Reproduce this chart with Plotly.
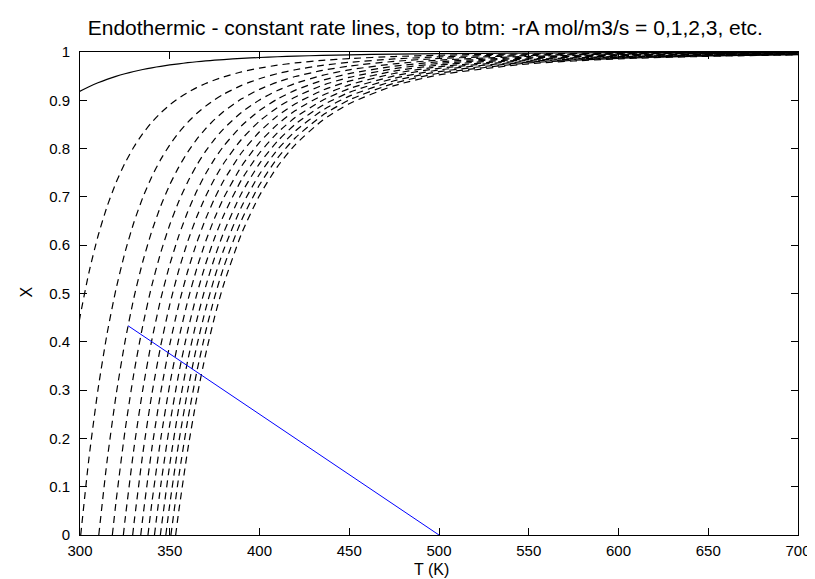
import plotly.graph_objects as go

T_GRID = [285, 290, 295, 300, 305, 310, 315, 320, 325, 330, 335, 340, 345, 350, 355,
          360, 365, 370, 375, 380, 390, 400, 410, 420, 435, 450, 475, 500, 550, 600, 650, 700]

# Conversion X along each constant-rate line (-rA = 0 .. 13 mol/m3/s)
X_R0 = [.8803, .8950, .9077, .9187, .9282, .9363, .9434, .9496, .9549, .9596, .9637, .9673, .9704, .9732, .9756,
        .9778, .9798, .9815, .9830, .9844, .9867, .9886, .9902, .9915, .9930, .9942, .9957, .9966, .9978, .9985, .9989, .9992]
X_R1 = [.0153, .1943, .3372, .4516, .5438, .6185, .6792, .7288, .7696, .8033, .8312, .8545, .8740, .8905, .9043,
        .9161, .9262, .9348, .9421, .9485, .9589, .9667, .9727, .9774, .9827, .9864, .9906, .9933, .9961, .9975, .9983, .9988]
X_R2 = [None, None, None, None, .1595, .3006, .4149, .5081, .5843, .6470, .6988, .7418, .7777, .8077, .8330,
        .8544, .8726, .8880, .9013, .9127, .9309, .9447, .9552, .9633, .9723, .9786, .9856, .9899, .9944, .9966, .9977, .9984]
X_R3 = [None, None, None, None, None, None, .1507, .2873, .3990, .4907, .5663, .6291, .6813, .7250, .7617,
        .7927, .8190, .8413, .8604, .8768, .9030, .9227, .9377, .9492, .9619, .9709, .9806, .9865, .9927, .9956, .9971, .9980]
X_R4 = [None, None, None, None, None, None, None, .0666, .2137, .3344, .4338, .5164, .5849, .6423, .6905,
        .7310, .7654, .7946, .8196, .8409, .8751, .9008, .9202, .9351, .9516, .9631, .9755, .9831, .9910, .9946, .9965, .9976]
X_R5 = [None, None, None, None, None, None, None, None, .0284, .1780, .3014, .4036, .4886, .5596, .6192,
        .6693, .7118, .7479, .7787, .8051, .8472, .8788, .9027, .9210, .9412, .9553, .9705, .9797, .9893, .9937, .9959, .9972]
X_R6 = [None, None, None, None, None, None, None, None, None, .0217, .1689, .2909, .3922, .4768, .5479,
        .6077, .6582, .7012, .7378, .7692, .8193, .8568, .8852, .9070, .9308, .9475, .9655, .9763, .9876, .9927, .9953, .9968]
X_R7 = [None, None, None, None, None, None, None, None, None, None, .0365, .1782, .2958, .3941, .4766,
        .5460, .6047, .6545, .6970, .7333, .7914, .8348, .8677, .8929, .9205, .9397, .9605, .9729, .9858, .9917, .9947, .9964]
X_R8 = [None, None, None, None, None, None, None, None, None, None, None, .0655, .1995, .3114, .4053,
        .4843, .5511, .6078, .6561, .6975, .7635, .8129, .8502, .8788, .9101, .9319, .9555, .9695, .9841, .9907, .9941, .9960]
X_R9 = [None, None, None, None, None, None, None, None, None, None, None, None, .1031, .2287, .3340,
        .4226, .4975, .5611, .6153, .6616, .7356, .7909, .8327, .8647, .8997, .9242, .9504, .9662, .9824, .9898, .9935, .9956]
X_R10 = [None, None, None, None, None, None, None, None, None, None, None, None, .0067, .1459, .2627,
         .3609, .4439, .5144, .5744, .6258, .7077, .7689, .8152, .8506, .8893, .9164, .9454, .9628, .9807, .9888, .9929, .9952]
X_R11 = [None, None, None, None, None, None, None, None, None, None, None, None, None, .0632, .1914,
         .2992, .3903, .4677, .5336, .5899, .6798, .7469, .7977, .8365, .8790, .9086, .9404, .9594, .9790, .9878, .9923, .9948]
X_R12 = [None, None, None, None, None, None, None, None, None, None, None, None, None, None, .1201,
         .2375, .3367, .4209, .4927, .5540, .6519, .7250, .7802, .8224, .8686, .9008, .9354, .9560, .9773, .9869, .9917, .9944]
X_R13 = [None, None, None, None, None, None, None, None, None, None, None, None, None, None, .0488,
         .1758, .2831, .3742, .4518, .5182, .6240, .7030, .7627, .8083, .8582, .8930, .9303, .9526, .9756, .9859, .9911, .9940]

# Temperature where each dashed line meets X = 0
START_T = [None, 284.62, 300.40, 310.47, 318.03, 324.16, 329.34, 333.85, 337.86, 341.48, 344.78, 347.82, 350.65, 353.29]

# Operating (adiabatic) line
OP_T = [500.0, 326.7]
OP_X = [0.0, 0.4334]

X_TICKS = [300, 350, 400, 450, 500, 550, 600, 650, 700]
Y_TICKS = [0, .1, .2, .3, .4, .5, .6, .7, .8, .9, 1]
Y_TICK_TEXT = ["0", "0.1", "0.2", "0.3", "0.4", "0.5", "0.6", "0.7", "0.8", "0.9", "1"]

TITLE = "Endothermic - constant rate lines, top to btm: -rA mol/m3/s = 0,1,2,3, etc."
X_LABEL = "T (K)"
Y_LABEL = "X"

RATE_LINES = [X_R0, X_R1, X_R2, X_R3, X_R4, X_R5, X_R6, X_R7, X_R8, X_R9, X_R10, X_R11, X_R12, X_R13]

fig = go.Figure()
FONT = "Liberation Sans, Arial, sans-serif"

for i, xs in enumerate(RATE_LINES):
    tt, yy = [], []
    if START_T[i] is not None:
        tt.append(START_T[i]); yy.append(0.0)
    for t, x in zip(T_GRID, xs):
        if x is not None:
            tt.append(t); yy.append(x)
    fig.add_trace(go.Scatter(
        x=tt, y=yy, mode="lines", showlegend=False, hoverinfo="skip",
        line=dict(color="black", width=1.2, dash="solid" if i == 0 else "7px,5px",
                  shape="spline", smoothing=0.6)))

fig.add_trace(go.Scatter(x=OP_T, y=OP_X, mode="lines", showlegend=False, hoverinfo="skip",
                         line=dict(color="#0000ff", width=1)))

axis_common = dict(showline=True, linecolor="black", linewidth=1, mirror="allticks",
                   ticks="inside", ticklen=7, tickcolor="black", showgrid=False,
                   zeroline=False, tickfont=dict(family=FONT, size=15, color="black"))

fig.update_layout(
    width=815, height=579,
    margin=dict(l=72, r=13, t=44, b=52),
    paper_bgcolor="white", plot_bgcolor="white",
    title=dict(text=TITLE, x=0.481, xref="paper", xanchor="center",
               y=0.9655, yref="container", yanchor="middle",
               font=dict(family=FONT, size=21, color="black")),
    xaxis=dict(range=[300, 700], tickvals=X_TICKS, ticklabelstandoff=2, **axis_common),
    yaxis=dict(range=[0, 1], tickvals=Y_TICKS, ticktext=Y_TICK_TEXT,
               ticklabelstandoff=6, **axis_common),
    annotations=[
        dict(text=X_LABEL, xref="paper", yref="paper", x=0.490, y=-0.072,
             xanchor="center", yanchor="middle", showarrow=False,
             font=dict(family=FONT, size=16, color="black")),
        dict(text=Y_LABEL, xref="paper", yref="paper", x=-0.0747, y=0.503,
             xanchor="center", yanchor="middle", showarrow=False, textangle=-90,
             font=dict(family=FONT, size=16, color="black")),
    ],
)

fig.write_html("out.html")
